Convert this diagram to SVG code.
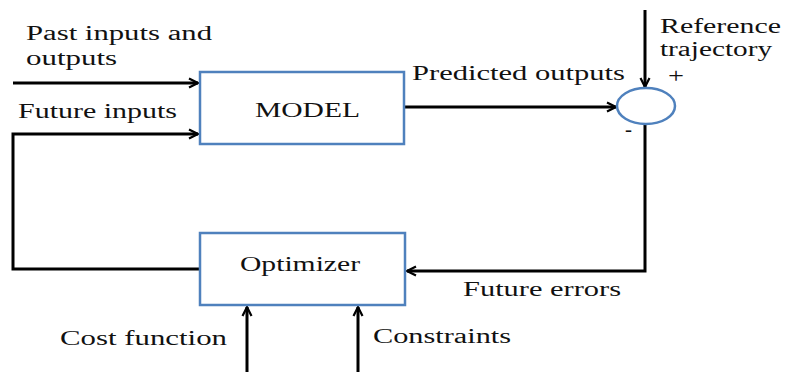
<svg xmlns="http://www.w3.org/2000/svg" width="785" height="372" viewBox="0 0 785 372">
  <style>
    .box { fill: #ffffff; stroke: #4f81bd; stroke-width: 2.5; }
    .wire { fill: none; stroke: #000000; stroke-width: 3; }
    text { font-family: 'Liberation Serif', 'Times New Roman', Times, serif; font-size: 20px; fill: #111111; }
  </style>
  <defs>
    <marker id="arrow" viewBox="0 0 12 12" refX="11" refY="6" markerWidth="12" markerHeight="12" markerUnits="userSpaceOnUse" orient="auto">
      <path d="M2,1.5 L11,6 L2,10.5" fill="none" stroke="#000000" stroke-width="2.2"/>
    </marker>
  </defs>

  <rect width="785" height="372" fill="#ffffff"/>

  <g id="connectors">
    <!-- past inputs and outputs into the model -->
    <line class="wire" x1="13" y1="83" x2="198" y2="83" marker-end="url(#arrow)"/>
    <!-- optimizer output fed back as future inputs -->
    <polyline class="wire" points="200,269 13,269 13,134 198,134" marker-end="url(#arrow)"/>
    <!-- predicted outputs to summing junction -->
    <line class="wire" x1="405" y1="107" x2="616" y2="107" marker-end="url(#arrow)"/>
    <!-- reference trajectory into summing junction -->
    <line class="wire" x1="645" y1="10" x2="645" y2="87" marker-end="url(#arrow)"/>
    <!-- future errors back to optimizer -->
    <polyline class="wire" points="645,124 645,271 407,271" marker-end="url(#arrow)"/>
    <!-- cost function and constraints into optimizer -->
    <line class="wire" x1="247" y1="372" x2="247" y2="307" marker-end="url(#arrow)"/>
    <line class="wire" x1="358" y1="372" x2="358" y2="307" marker-end="url(#arrow)"/>
  </g>

  <g id="model">
    <rect class="box" x="200" y="72" width="204" height="72"/>
    <text x="255" y="117" textLength="105" lengthAdjust="spacingAndGlyphs">MODEL</text>
  </g>

  <g id="optimizer">
    <rect class="box" x="200" y="233" width="205" height="72"/>
    <text x="240" y="271" textLength="120" lengthAdjust="spacingAndGlyphs">Optimizer</text>
  </g>

  <g id="summing-junction">
    <ellipse class="box" cx="646" cy="106" rx="29" ry="18"/>
    <text x="668" y="83" textLength="16" lengthAdjust="spacingAndGlyphs">+</text>
    <text x="625" y="136" textLength="7" lengthAdjust="spacingAndGlyphs">-</text>
  </g>

  <g id="labels">
    <text x="26" y="40" textLength="186" lengthAdjust="spacingAndGlyphs">Past inputs and</text>
    <text x="26" y="65" textLength="91" lengthAdjust="spacingAndGlyphs">outputs</text>
    <text x="18" y="118" textLength="159" lengthAdjust="spacingAndGlyphs">Future inputs</text>
    <text x="412" y="80" textLength="213" lengthAdjust="spacingAndGlyphs">Predicted outputs</text>
    <text x="660" y="33" textLength="121" lengthAdjust="spacingAndGlyphs">Reference</text>
    <text x="660" y="56" textLength="112" lengthAdjust="spacingAndGlyphs">trajectory</text>
    <text x="463" y="296" textLength="158" lengthAdjust="spacingAndGlyphs">Future errors</text>
    <text x="60" y="345" textLength="167" lengthAdjust="spacingAndGlyphs">Cost function</text>
    <text x="373" y="343" textLength="138" lengthAdjust="spacingAndGlyphs">Constraints</text>
  </g>
</svg>
